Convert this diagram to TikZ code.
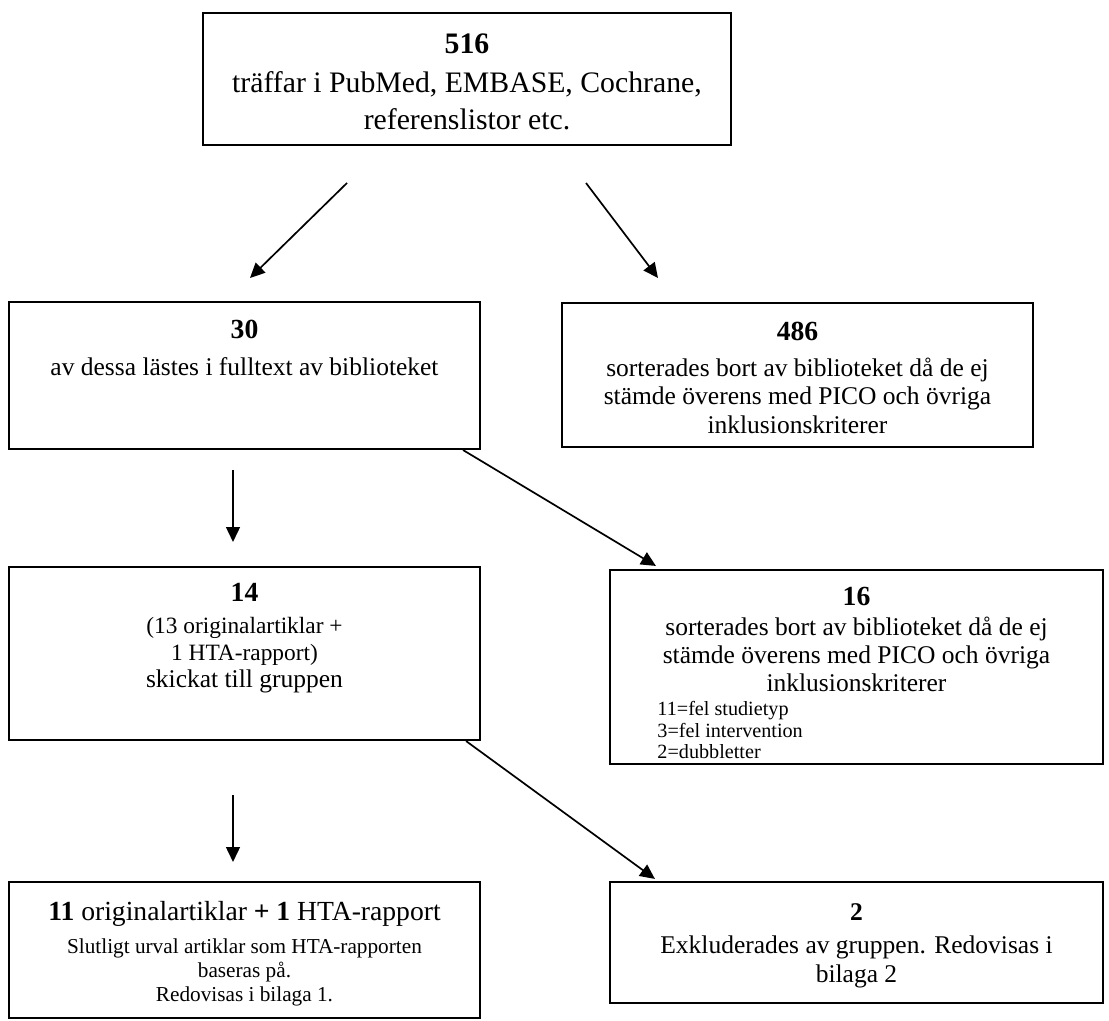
\documentclass[tikz,border=0pt]{standalone}
\usepackage{fontspec}
\setmainfont{Liberation Serif}
\usetikzlibrary{arrows.meta,fit,calc}
\begin{document}
\begin{tikzpicture}[x=0.4706pt,y=-0.4706pt,
  box/.style={draw, line width=1pt, inner sep=0pt, rectangle},
  txt/.style={inner sep=0pt, align=center, anchor=north},
  arr/.style={line width=0.8pt, -{Triangle[length=7pt,width=6.5pt]}}]
\useasboundingbox (0,0) rectangle (1109,1021);

% boxes
\node[box, fit={(203,13) (731,145)}] (b1) {};
\node[box, fit={(9,302) (480,449)}] (b2) {};
\node[box, fit={(562,303) (1033,447)}] (b3) {};
\node[box, fit={(9,567) (480,740)}] (b4) {};
\node[box, fit={(610,570) (1103,764)}] (b5) {};
\node[box, fit={(9,882) (480,1018)}] (b6) {};
\node[box, fit={(610,882) (1103,1003)}] (b7) {};

% texts
\node[txt, font=\fontsize{14}{17.5}\selectfont] (t1) at (467,33)
  {{\bfseries 516}\\[1pt] träffar i PubMed, EMBASE, Cochrane,\\ referenslistor etc.};
\node[txt, font=\fontsize{12}{14.4}\selectfont] (t2) at (244.5,320)
  {{\fontsize{13}{15}\selectfont\bfseries 30}\\[3pt] av dessa lästes i fulltext av biblioteket};
\node[txt, font=\fontsize{12}{13.6}\selectfont] (t3) at (797.5,322)
  {{\fontsize{13}{15}\selectfont\bfseries 486}\\[3pt] sorterades bort av biblioteket då de ej\\ stämde överens med PICO och övriga\\ inklusionskriterer};
\node[txt, font=\fontsize{11}{12.7}\selectfont] (t4) at (244.5,583)
  {{\fontsize{13}{15}\selectfont\bfseries 14}\\[2.3pt] (13 originalartiklar +\\ 1 HTA-rapport)\\ {\fontsize{12}{14}\selectfont skickat till gruppen}};
\node[txt, font=\fontsize{12}{13.2}\selectfont] (t5) at (856.5,587)
  {{\fontsize{13}{15}\selectfont\bfseries 16}\\[1pt] sorterades bort av biblioteket då de ej\\ stämde överens med PICO och övriga\\ inklusionskriterer};
\node[inner sep=0pt, anchor=north west, align=left, font=\fontsize{9.5}{10.2}\selectfont] (l5) at (657,701)
  {11=fel studietyp\\ 3=fel intervention\\ 2=dubbletter};
\node[txt, font=\fontsize{10}{11.3}\selectfont] (t6) at (244.5,901)
  {{\fontsize{13}{15}\selectfont\textbf{11} originalartiklar \textbf{+ 1} HTA-rapport}\\[4pt] Slutligt urval artiklar som HTA-rapporten\\ baseras på.\\ Redovisas i bilaga 1.};
\node[txt, font=\fontsize{12}{13.7}\selectfont] (t7) at (856.5,903)
  {{\bfseries 2}\\[1.8pt] Exkluderades av gruppen. Redovisas i\\ bilaga 2};

% connector end points
\coordinate (a1s) at (347,183);
\coordinate (a1e) at (250,278);
\coordinate (a2s) at (586,183);
\coordinate (a2e) at (658,278);
\coordinate (a3s) at (233,470);
\coordinate (a3e) at (233,542);
\coordinate (d1s) at ($(b2.south east)+(-18,0)$);
\coordinate (d1e) at ($(b5.north west)+(47,-3)$);
\coordinate (a5s) at (233,795);
\coordinate (a5e) at (233,862);
\coordinate (d2s) at ($(b4.south east)+(-15,0)$);
\coordinate (d2e) at ($(b7.north west)+(46,-2)$);

\draw[arr] (a1s) -- (a1e);
\draw[arr] (a2s) -- (a2e);
\draw[arr] (a3s) -- (a3e);
\draw[arr] (d1s) -- (d1e);
\draw[arr] (a5s) -- (a5e);
\draw[arr] (d2s) -- (d2e);
\end{tikzpicture}
\end{document}
